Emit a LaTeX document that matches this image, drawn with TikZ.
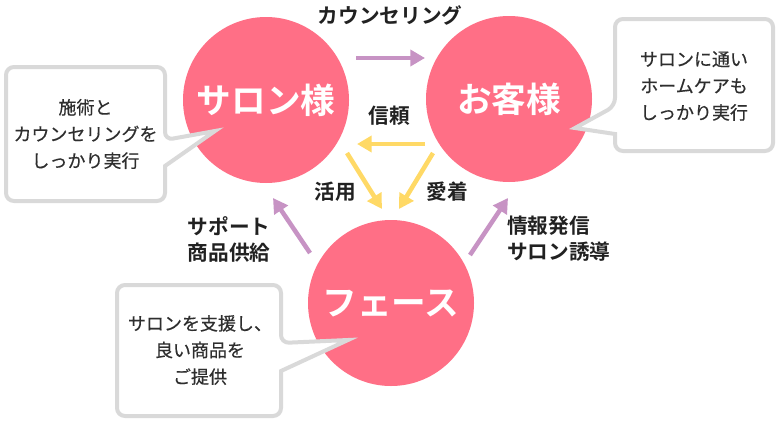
\documentclass[tikz,border=0pt]{standalone}
\usepackage{fontspec}
\setmainfont{Noto Sans CJK JP}[BoldFont={Noto Sans CJK JP Bold}]
\newfontfamily\chufont{Noto Sans CJK JP}[FakeBold=0.4]
\usepackage{xcolor}
\usetikzlibrary{arrows.meta}
\definecolor{hana}{HTML}{FF6F86}
\definecolor{fuji}{HTML}{C793C4}
\definecolor{kiiro}{HTML}{FFD966}
\definecolor{waku}{HTML}{D9D9D9}

\begin{document}
\begin{tikzpicture}[x=0.75pt,y=-0.75pt,
maru/.style={circle,fill=hana,minimum size=124.5pt,inner sep=0pt,text=white,font=\bfseries\fontsize{26}{30}\selectfont},
murasaki/.style={draw=fuji,line width=3.4pt,-{Triangle[length=11pt,width=12pt]}},
kiyajirushi/.style={draw=kiiro,line width=3.4pt,-{Triangle[length=11pt,width=12pt]}},
lbl/.style={font=\bfseries\fontsize{15.5}{19.5}\selectfont,text=black!87,inner sep=0pt},
fuki/.style={draw=waku,line width=3pt,fill=white,line join=miter},
fukitext/.style={align=center,font=\chufont\fontsize{13.5}{20}\selectfont,text=black!82,inner sep=0pt}]
\useasboundingbox(0,0)rectangle(780,425);
\node[maru](salon)at(266,100){サロン様};
\node[maru](kyaku)at(509,99){お客様};
\node[maru](face)at(391,303){フェース};
% arrows between the circles
\coordinate(c1)at(356,58);\coordinate(c2)at(425,58);
\coordinate(s1)at(425,144);\coordinate(s2)at(357,144);
\coordinate(k1)at(347,153);\coordinate(k2)at(382,209);
\coordinate(a1)at(433,153);\coordinate(a2)at(399,209);
\coordinate(h1)at(310,253);\coordinate(h2)at(273,198);
\coordinate(j1)at(470,255);\coordinate(j2)at(508,198);
\draw[murasaki](c1)--(c2);
\draw[murasaki](h1)--(h2);
\draw[murasaki](j1)--(j2);
\draw[kiyajirushi](s1)--(s2);
\draw[kiyajirushi](k1)--(k2);
\draw[kiyajirushi](a1)--(a2);
\node[lbl](counsel)at(390,15){カウンセリング};
\node[lbl](shinrai)at(389,116){信頼};
\node[lbl](katsuyo)at(335,192){活用};
\node[lbl](aichaku)at(447,192){愛着};
\node[lbl,align=center](support)at(229,239){サポート\\商品供給};
\node[lbl,align=left,anchor=west](joho)at(507,239){情報発信\\サロン誘導};
% speech bubbles
\draw[fuki](165,166)[rounded corners=6pt]--(165,201)--(6,201)--(6,67)--(165,67)--(165,140)[sharp corners]--(215,131)--cycle;
\draw[fuki](615,134)[rounded corners=6pt]--(615,151)--(773,151)--(773,19)--(615,19)--(615,106)[sharp corners]--(575,128)--cycle;
\draw[fuki](281,371)[rounded corners=6pt]--(281,416)--(117,416)--(117,285)--(281,285)--(281,343)[sharp corners]--(348,340)--cycle;
\node[fukitext](t1)at(85.5,134){施術と\\カウンセリングを\\しっかり実行};
\node[fukitext](t2)at(694,86){サロンに通い\\ホームケアも\\しっかり実行};
\node[fukitext](t3)at(200,350){サロンを支援し、\\良い商品を\\ご提供};
\end{tikzpicture}
\end{document}
